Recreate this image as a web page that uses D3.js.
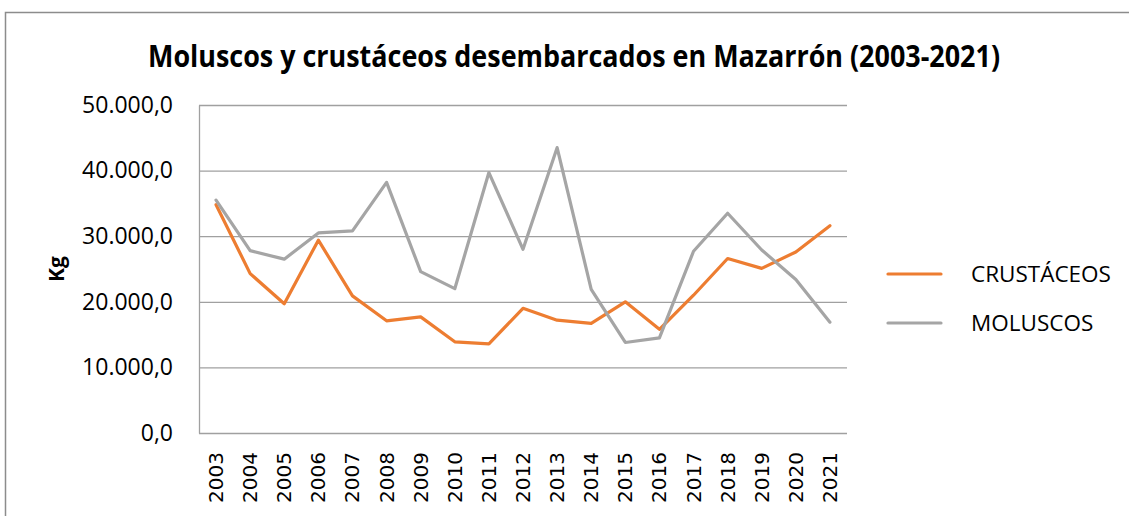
<!DOCTYPE html>
<html>
<head>
<meta charset="utf-8">
<script src="https://cdn.jsdelivr.net/npm/d3@7"></script>
<style>
  html, body { margin: 0; padding: 0; background: #fff; }
  svg { display: block; }
</style>
</head>
<body>
<script>
// ---- data ----
const years = ["2003","2004","2005","2006","2007","2008","2009","2010","2011","2012","2013","2014","2015","2016","2017","2018","2019","2020","2021"];
const crustaceos = [34800, 24300, 19700, 29400, 20900, 17100, 17700, 13900, 13600, 19000, 17200, 16700, 20000, 15800, 21000, 26600, 25100, 27600, 31600];
const moluscos   = [35500, 27800, 26500, 30500, 30800, 38200, 24600, 22000, 39700, 28000, 43500, 21900, 13800, 14500, 27700, 33500, 27900, 23400, 16900];
const seriesNames = ["CRUSTÁCEOS", "MOLUSCOS"];
const seriesColors = ["#ED7D31", "#A5A5A5"];
const yTicks = [0, 10000, 20000, 30000, 40000, 50000];
const titleText = "Moluscos y crustáceos desembarcados en Mazarrón (2003-2021)";
const yTitle = "Kg";

const W = 1129, H = 516;
const plot = { left: 199, right: 847, top: 105, bottom: 433 };

const svg = d3.select("body").append("svg").attr("width", W).attr("height", H);

// outer chart frame (extends beyond the visible window on right/bottom)
svg.append("path")
  .attr("d", `M5.5,${H + 10} L5.5,12.5 L${W + 10},12.5`)
  .attr("fill", "none").attr("stroke", "#8c8c8c").attr("stroke-width", 1.5);

// title
const title = svg.append("text")
  .attr("x", 574).attr("y", 67)
  .attr("text-anchor", "middle")
  .style("font-family", "'Liberation Sans Narrow', 'Open Sans', sans-serif")
  .style("font-weight", "bold").style("font-size", "31px").style("fill", "#000")
  .text(titleText);
{
  const len = title.node().getComputedTextLength();
  if (len > 0) title.attr("textLength", 852).attr("lengthAdjust", "spacingAndGlyphs");
}

const x = d3.scaleBand().domain(years).range([plot.left, plot.right]);
const y = d3.scaleLinear().domain([0, 50000]).range([plot.bottom, plot.top]);
const loc = d3.formatLocale({ decimal: ",", thousands: ".", grouping: [3], currency: ["", "€"] });
const fmt = loc.format(",.1f");

// y axis with gridlines
const yAxis = svg.append("g").attr("transform", `translate(${plot.left},0)`)
  .call(d3.axisLeft(y).tickValues(yTicks).tickFormat(fmt)
    .tickSizeInner(-(plot.right - plot.left)).tickSizeOuter(0).tickPadding(26));
yAxis.select(".domain").attr("stroke", "#a0a0a0").attr("stroke-width", 1.3);
yAxis.selectAll(".tick line").attr("stroke", "#a0a0a0").attr("stroke-width", 1.3);
yAxis.selectAll(".tick text")
  .style("font-family", "'Open Sans', sans-serif").style("font-size", "23px").style("fill", "#000");

// y title
svg.append("text")
  .attr("transform", `translate(64,269) rotate(-90)`)
  .attr("text-anchor", "middle")
  .style("font-family", "'Open Sans', sans-serif").style("font-weight", "bold")
  .style("font-size", "21px").style("fill", "#000")
  .text(yTitle);

// x axis
const xAxis = svg.append("g").attr("transform", `translate(0,${plot.bottom})`)
  .call(d3.axisBottom(x).tickSize(0).tickPadding(0));
xAxis.select(".domain").remove();
xAxis.selectAll(".tick text")
  .attr("transform", "rotate(-90)")
  .attr("text-anchor", "end")
  .attr("x", -19).attr("y", 0).attr("dy", "0.35em")
  .style("font-family", "'DejaVu Sans', sans-serif").style("font-size", "20px").style("fill", "#000");

// lines
const line = d3.line().x((d, i) => x(years[i]) + x.bandwidth() / 2).y(d => y(d));
const series = [crustaceos, moluscos];
series.forEach((s, i) => {
  svg.append("path").datum(s)
    .attr("d", line)
    .attr("fill", "none")
    .attr("stroke", seriesColors[i])
    .attr("stroke-width", 3.2)
    .attr("stroke-linejoin", "round")
    .attr("stroke-linecap", "round");
});

// legend
const legendY = [274, 323];
const lg = svg.append("g");
seriesNames.forEach((n, i) => {
  lg.append("line")
    .attr("x1", 888).attr("x2", 941)
    .attr("y1", legendY[i]).attr("y2", legendY[i])
    .attr("stroke", seriesColors[i]).attr("stroke-width", 3.2).attr("stroke-linecap", "round");
  lg.append("text")
    .attr("x", 971).attr("y", legendY[i]).attr("dy", "0.36em")
    .style("font-family", "'Open Sans', sans-serif").style("font-size", "22.5px").style("fill", "#000")
    .text(n);
});
</script>
</body>
</html>
